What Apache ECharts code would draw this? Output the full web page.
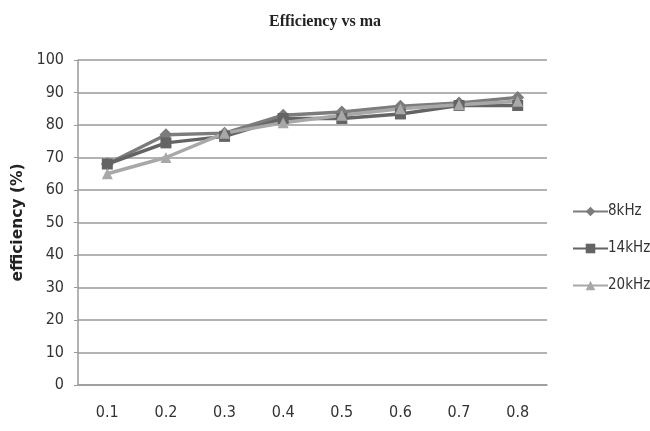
<!DOCTYPE html>
<html><head><meta charset="utf-8">
<script src="https://cdn.jsdelivr.net/npm/echarts@6/dist/echarts.min.js"></script>
<style>html,body{margin:0;padding:0;background:#fff}#c{width:650px;height:431px}</style>
</head><body><div id="c"></div>
<script>
const categories = ['0.1','0.2','0.3','0.4','0.5','0.6','0.7','0.8'];
const s8kHz  = [68, 77, 77.5, 83, 84, 85.8, 86.8, 88.5];
const s14kHz = [68, 74.5, 76.5, 82, 82, 83.4, 86, 86];
const s20kHz = [65, 70, 77.5, 80.7, 83, 85, 86.2, 87.3];
const yTicks = [0,10,20,30,40,50,60,70,80,90,100];

const font = '"DejaVu Sans Condensed", "Liberation Sans Narrow", sans-serif';
const chart = echarts.init(document.getElementById('c'));
function ser(name, data, color, symbol, size){
  return {name, type:'line', data, symbol, symbolSize:size, color,
    lineStyle:{width:3.5,color}, itemStyle:{color}, animation:false};
}
chart.setOption({
  animation:false,
  title:{text:'Efficiency vs ma', left:'center', top:9,
    textStyle:{fontFamily:'Liberation Serif, serif', fontWeight:'bold', fontSize:16, color:'#222'}},
  grid:{left:78, right:103, top:60, bottom:46},
  legend:{orient:'vertical', left:567, top:199, itemWidth:35, itemHeight:12, itemGap:22,
    textStyle:{fontFamily:font, fontSize:15, color:'#333', padding:[0,0,0,-5]},
    data:['8kHz','14kHz','20kHz']},
  xAxis:{type:'category', data:categories, boundaryGap:true,
    axisLine:{lineStyle:{color:'#9a9a9a', width:1.5}}, axisTick:{show:false},
    axisLabel:{fontFamily:font, fontSize:16, color:'#333', margin:20}},
  yAxis:{type:'value', min:0, max:100, interval:10,
    name:'efficiency (%)', nameLocation:'middle', nameGap:52,
    nameTextStyle:{fontFamily:'"DejaVu Sans", sans-serif', fontWeight:'bold', fontSize:15.5, color:'#222'},
    axisLine:{show:true, lineStyle:{color:'#9a9a9a', width:1.5}},
    axisTick:{show:true, length:4, lineStyle:{color:'#9a9a9a'}},
    splitLine:{lineStyle:{color:'#9a9a9a', width:1.5}},
    axisLabel:{fontFamily:font, fontSize:16, color:'#333', margin:14,
      formatter:v=>yTicks.includes(v)?String(v):''}},
  series:[
    ser('8kHz', s8kHz, '#7c7c7c', 'diamond', 13),
    ser('14kHz', s14kHz, '#646464', 'rect', 11),
    ser('20kHz', s20kHz, '#a8a8a8', 'triangle', 11)
  ]
});
</script></body></html>
